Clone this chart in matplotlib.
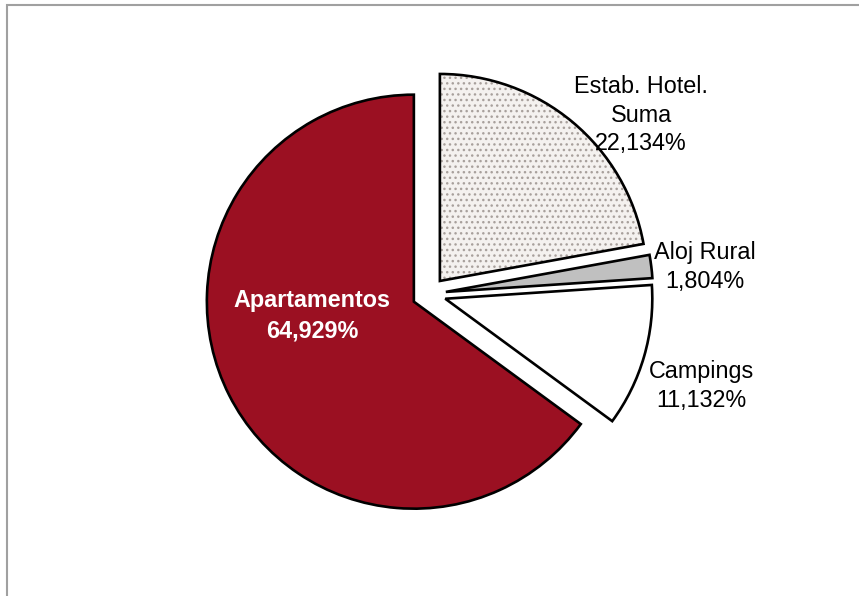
import matplotlib.pyplot as plt
from matplotlib.patches import Rectangle, Wedge

labels = ['Apartamentos', 'Campings', 'Aloj Rural', 'Estab. Hotel.\nSuma']
values = [64.929, 11.132, 1.804, 22.134]
colors = ['#9b1022', '#ffffff', '#c0c0c0', '#f4f1ef']

W, H = 859, 596
fig = plt.figure(figsize=(W / 100, H / 100), dpi=100)
ax = fig.add_axes([0, 0, 1, 1])

R = 207
cx, cy = 429, H - 294
# every slice pulled out by the same amount (pie's explode is in data units)
wedges, _ = ax.pie(values, colors=colors, explode=[0.082 * R] * len(values), startangle=90,
                   counterclock=True, radius=R, center=(cx, cy),
                   wedgeprops=dict(edgecolor='black', linewidth=1.9))

# dotted fill for the hotel slice, drawn under the black outline
w = wedges[3]
z = w.get_zorder()
bg = Wedge(w.center, w.r, w.theta1, w.theta2, facecolor=colors[3],
           edgecolor='none', zorder=z - 0.05)
dots = Wedge(w.center, w.r, w.theta1, w.theta2, facecolor='none',
             edgecolor='#a8a09c', linewidth=0, hatch='...', zorder=z - 0.01)
ax.add_patch(bg)
ax.add_patch(dots)
w.set_facecolor('none')
w.set_zorder(z + 0.02)

ax.set_xlim(0, W)
ax.set_ylim(0, H)
ax.set_aspect('equal')
ax.axis('off')

fs = 16.8
def pct(v):
    return f'{v:.3f}'.replace('.', ',') + '%'

ax.text(312, H - 316, labels[0] + '\n' + pct(values[0]),
        ha='center', va='center', color='white', fontsize=fs, fontweight='bold',
        family='Liberation Sans', linespacing=1.4)
ax.text(641, H - 115, labels[3] + '\n' + pct(values[3]),
        ha='center', va='center', fontsize=fs, family='Liberation Sans', linespacing=1.3)
ax.text(705, H - 267, labels[2] + '\n' + pct(values[2]),
        ha='center', va='center', fontsize=fs, family='Liberation Sans', linespacing=1.3)
ax.text(701, H - 386, labels[1] + '\n' + pct(values[1]),
        ha='center', va='center', fontsize=fs, family='Liberation Sans', linespacing=1.3)

# chart area border (only top and left visible)
fig.patches.append(Rectangle((6.5 / W, -0.1), 1.2, 1.1 - 4.5 / H, transform=fig.transFigure,
                             fill=False, edgecolor='#a0a0a0', linewidth=1.5))

fig.savefig('out.png', dpi=100)
